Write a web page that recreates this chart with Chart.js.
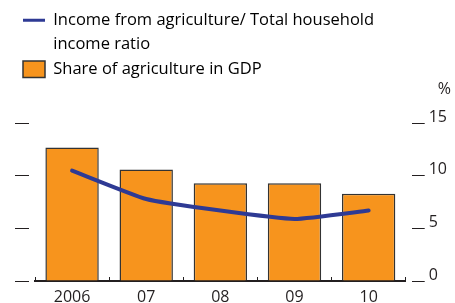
<!DOCTYPE html>
<html>
<head>
<meta charset="utf-8">
<script src="https://cdn.jsdelivr.net/npm/chart.js@4"></script>
<style>
    html, body { margin: 0; padding: 0; background: #fff; }
    #wrap { width: 455px; height: 303px; }
</style>
</head>
<body>
<div id="wrap"><canvas id="agri-chart"></canvas></div>
<script>
// values
const years = ['2006', '07', '08', '09', '10'];
const shareOfGdp = [12.7, 10.6, 9.3, 9.3, 8.3];
const incomeRatio = [10.5, 7.8, 6.7, 5.9, 6.7];
const yTicks = [0, 5, 10, 15];
const lineLegend = ['Income from agriculture/ Total household', 'income ratio'];
const barLegend = 'Share of agriculture in GDP';
const unit = '%';

const textColor = '#231f20';
const barColor = '#f7941d';
const lineColor = '#2e3a94';

Chart.defaults.font.family = "'Open Sans', sans-serif";
Chart.defaults.font.size = 16;
Chart.defaults.color = textColor;

const agriChart = document.getElementById('agri-chart');

new Chart(agriChart, {
    type: 'bar',
    data: {
        labels: years,
        datasets: [
            {
                type: 'line',
                label: lineLegend.join(' '),
                data: incomeRatio,
                borderColor: lineColor,
                borderWidth: 4,
                borderCapStyle: 'round',
                tension: 0.15,
                pointRadius: 0,
                order: 0,
            },
            {
                label: barLegend,
                data: shareOfGdp,
                backgroundColor: barColor,
                borderColor: '#333333',
                borderWidth: 1.5,
                barPercentage: 0.72,
                categoryPercentage: 1,
                order: 1,
            },
        ],
    },
    options: {
        responsive: true,
        maintainAspectRatio: false,
        animation: false,
        layout: {
            padding: { top: 4, left: 15, right: 4, bottom: 0 },
        },
        plugins: {
            legend: {
                position: 'top',
                align: 'start',
                labels: {
                    usePointStyle: true,
                    pointStyleWidth: 22,
                    padding: 8,
                    color: textColor,
                    font: { size: 16.5 },
                    generateLabels: function () {
                        // second line of the first entry is its own row; the padding
                        // keeps the GDP entry from joining that row
                        return [
                            { text: lineLegend[0], pointStyle: 'line', strokeStyle: lineColor, fillStyle: lineColor, lineWidth: 3, datasetIndex: 0 },
                            { text: lineLegend[1] + '\u00a0'.repeat(16), pointStyle: 'line', strokeStyle: 'rgba(0,0,0,0)', fillStyle: 'rgba(0,0,0,0)', lineWidth: 0, datasetIndex: 0 },
                            { text: barLegend, pointStyle: 'rect', strokeStyle: '#333333', fillStyle: barColor, lineWidth: 1.5, datasetIndex: 1 },
                        ];
                    },
                },
            },
            title: {
                display: true,
                text: unit,
                align: 'end',
                weight: 500,
                color: textColor,
                font: { size: 16, weight: 'normal' },
                padding: { top: -8, bottom: 24.6 },
            },
            tooltip: { enabled: false },
        },
        scales: {
            x: {
                afterFit: function (scale) {
                    scale.height = 22;
                },
                grid: {
                    offset: true,
                    drawOnChartArea: false,
                    tickLength: -4,
                    tickColor: textColor,
                    tickWidth: 1,
                },
                border: { display: true, color: textColor, width: 2 },
                ticks: {
                    padding: 12.5,
                    font: { size: 16, lineHeight: 1 },
                },
            },
            y: {
                position: 'left',
                min: 0,
                max: 15,
                afterBuildTicks: function (scale) {
                    scale.ticks = yTicks.map(v => ({ value: v }));
                },
                grid: {
                    drawOnChartArea: false,
                    tickLength: 20,
                    tickColor: textColor,
                    tickWidth: 1,
                    tickBorderDash: [14, 6],
                },
                border: { display: false },
                ticks: { display: false },
            },
            y2: {
                position: 'right',
                min: 0,
                max: 15,
                afterBuildTicks: function (scale) {
                    scale.ticks = yTicks.map(v => ({ value: v }));
                },
                grid: {
                    drawOnChartArea: false,
                    tickLength: 19,
                    tickColor: textColor,
                    tickWidth: 1,
                    tickBorderDash: [13, 6],
                    tickBorderDashOffset: 13,
                },
                border: { display: false },
                ticks: {
                    padding: 4,
                    labelOffset: -6,
                    color: textColor,
                },
            },
        },
    },
});
</script>
</body>
</html>
